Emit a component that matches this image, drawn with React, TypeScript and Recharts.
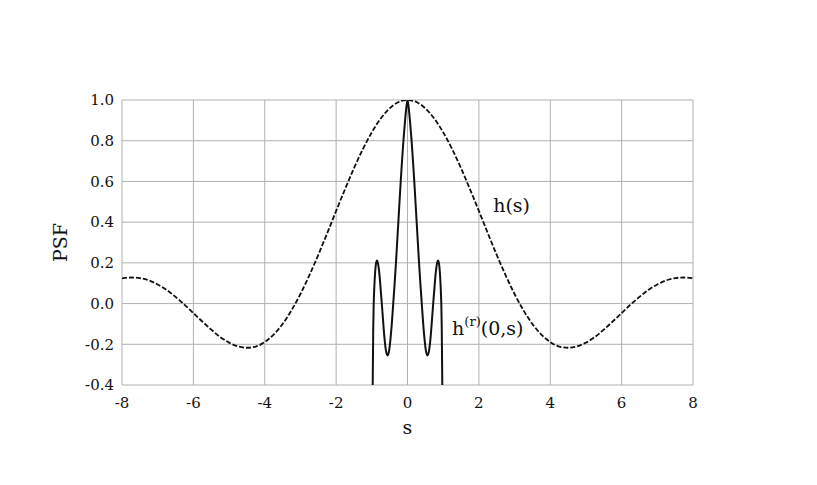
import { CartesianGrid, Label, Line, LineChart, ReferenceDot, XAxis, YAxis } from 'recharts'

const FONT = '"DejaVu Serif", serif'

// h(s), sampled every 0.25 along s
const hS = [
  -8, -7.75, -7.5, -7.25, -7, -6.75, -6.5, -6.25, -6, -5.75, -5.5, -5.25, -5, -4.75, -4.5, -4.25, -4,
  -3.75, -3.5, -3.25, -3, -2.75, -2.5, -2.25, -2, -1.75, -1.5, -1.25, -1, -0.75, -0.5, -0.25, 0,
  0.25, 0.5, 0.75, 1, 1.25, 1.5, 1.75, 2, 2.25, 2.5, 2.75, 3, 3.25, 3.5, 3.75, 4,
  4.25, 4.5, 4.75, 5, 5.25, 5.5, 5.75, 6, 6.25, 6.5, 6.75, 7, 7.25, 7.5, 7.75, 8,
]
const hV = [
  0.124, 0.128, 0.125, 0.114, 0.094, 0.067, 0.033, -0.005, -0.047, -0.088, -0.128, -0.164, -0.192, -0.21, -0.217, -0.211, -0.189,
  -0.152, -0.1, -0.033, 0.047, 0.139, 0.239, 0.346, 0.455, 0.562, 0.665, 0.759, 0.841, 0.909, 0.959, 0.99, 1,
  0.99, 0.959, 0.909, 0.841, 0.759, 0.665, 0.562, 0.455, 0.346, 0.239, 0.139, 0.047, -0.033, -0.1, -0.152, -0.189,
  -0.211, -0.217, -0.21, -0.192, -0.164, -0.128, -0.088, -0.047, -0.005, 0.033, 0.067, 0.094, 0.114, 0.125, 0.128, 0.124,
]

// h^(r)(0,s), only near the centre (runs off the bottom past |s| ~ 1)
const rS = [
  -0.99, -0.975, -0.96, -0.947, -0.93, -0.91, -0.89, -0.87, -0.855, -0.83, -0.8, -0.77, -0.745, -0.72, -0.69, -0.65,
  -0.6, -0.555, -0.51, -0.48, -0.44, -0.4, -0.36, -0.32, -0.28, -0.25, -0.19, -0.15, -0.11, -0.07, -0.035, 0,
  0.035, 0.07, 0.11, 0.15, 0.19, 0.25, 0.28, 0.32, 0.36, 0.4, 0.44, 0.48, 0.51, 0.555,
  0.6, 0.65, 0.69, 0.72, 0.745, 0.77, 0.8, 0.83, 0.855, 0.87, 0.89, 0.91, 0.93, 0.947, 0.96, 0.975, 0.99,
]
const rV = [
  -0.75, -0.4, -0.12, 0, 0.08, 0.145, 0.187, 0.206, 0.212, 0.2, 0.165, 0.11, 0.055, 0, -0.07, -0.16,
  -0.235, -0.255, -0.225, -0.18, -0.1, 0, 0.1, 0.21, 0.33, 0.42, 0.6, 0.71, 0.81, 0.895, 0.96, 1,
  0.96, 0.895, 0.81, 0.71, 0.6, 0.42, 0.33, 0.21, 0.1, 0, -0.1, -0.18, -0.225, -0.255,
  -0.235, -0.16, -0.07, 0, 0.055, 0.11, 0.165, 0.2, 0.212, 0.206, 0.187, 0.145, 0.08, 0, -0.12, -0.4, -0.75,
]

const xTicks = [-8, -6, -4, -2, 0, 2, 4, 6, 8]
const yTicks = [-0.4, -0.2, 0, 0.2, 0.4, 0.6, 0.8, 1.0]

const hData = hS.map((s, i) => ({ s, v: hV[i] }))
const rData = rS.map((s, i) => ({ s, v: rV[i] }))

const tick = { fontSize: 15, fill: '#111', fontFamily: FONT }
const textStyle = { fontFamily: FONT, fontSize: 19, fill: '#111' }

export default function App() {
  return (
    <div style={{ position: 'absolute', left: 0, top: 0, width: 817, height: 485, fontFamily: FONT, background: '#fff' }}>
      <LineChart width={817} height={485} margin={{ top: 100, right: 124, bottom: 70, left: 62 }}>
        <CartesianGrid stroke="#b0b0b0" />
        <XAxis
          dataKey="s"
          type="number"
          domain={[-8, 8]}
          ticks={xTicks}
          allowDataOverflow
          axisLine={false}
          tickLine={false}
          tickMargin={6}
          tick={tick}
          height={30}
        >
          <Label value="s" position="bottom" offset={6} style={textStyle} />
        </XAxis>
        <YAxis
          type="number"
          domain={[-0.4, 1]}
          ticks={yTicks}
          allowDataOverflow
          axisLine={false}
          tickLine={false}
          tick={tick}
          tickFormatter={(v: number) => v.toFixed(1)}
          width={60}
        >
          <Label value="PSF" angle={-90} position="insideLeft" offset={-2} style={{ ...textStyle, textAnchor: 'middle' }} />
        </YAxis>
        <Line
          data={hData}
          dataKey="v"
          type="monotone"
          stroke="#111"
          strokeWidth={1.8}
          strokeDasharray="5 2"
          dot={false}
          isAnimationActive={false}
        />
        <Line
          data={rData}
          dataKey="v"
          type="monotone"
          stroke="#111"
          strokeWidth={2}
          dot={false}
          isAnimationActive={false}
        />
        <ReferenceDot
          x={2.4}
          y={0.45}
          r={0}
          ifOverflow="visible"
          shape={(p: any) => (
            <text x={p.cx} y={p.cy} fontFamily={FONT} fontSize={19} fill="#111">
              h(s)
            </text>
          )}
        />
        <ReferenceDot
          x={1.25}
          y={-0.155}
          r={0}
          ifOverflow="visible"
          shape={(p: any) => (
            <text x={p.cx} y={p.cy} fontFamily={FONT} fontSize={19} fill="#111">
              h
              <tspan dy={-9} fontSize={13}>
                (r)
              </tspan>
              <tspan dy={9}>(0,s)</tspan>
            </text>
          )}
        />
      </LineChart>
    </div>
  )
}
